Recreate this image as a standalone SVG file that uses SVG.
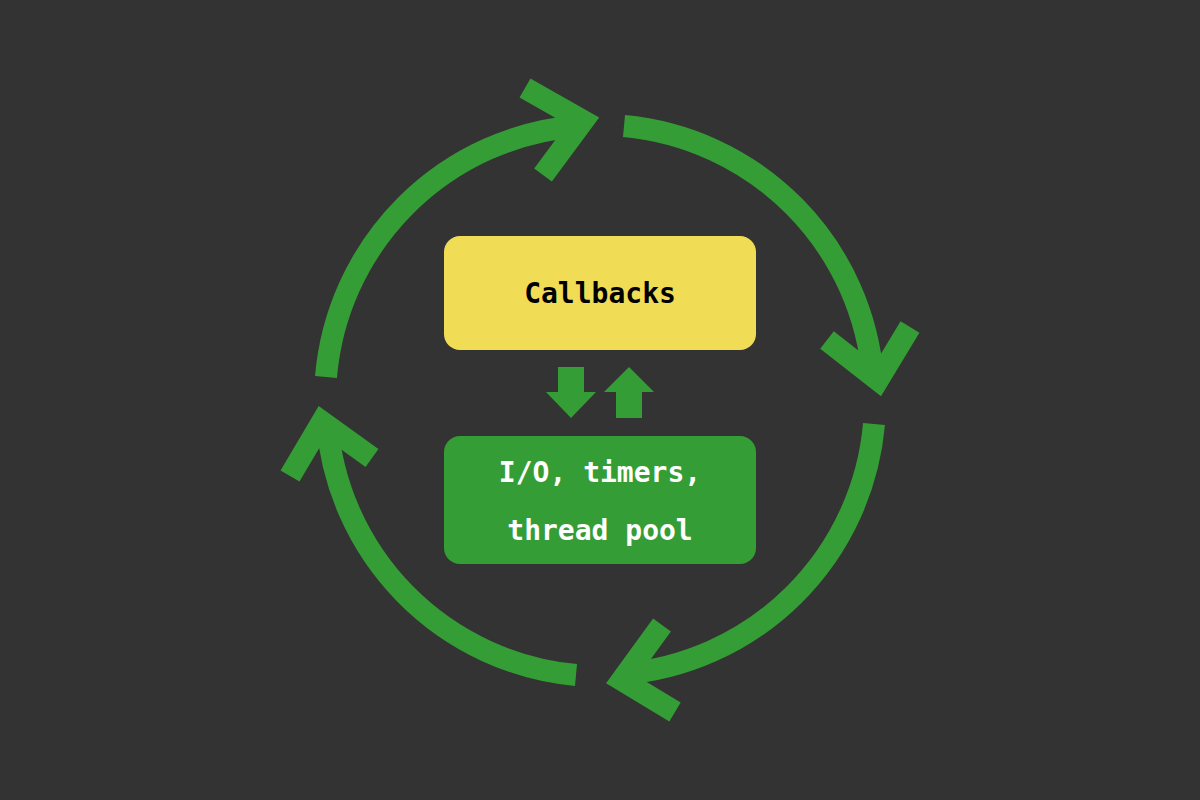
<svg xmlns="http://www.w3.org/2000/svg" width="1200" height="800" viewBox="0 0 1200 800">
<style>
.arc{fill:none;stroke:#359d35;stroke-width:22;stroke-linecap:butt}
.head{fill:none;stroke:#359d35;stroke-width:22;stroke-linejoin:miter;stroke-miterlimit:10}
.t{font-family:"DejaVu Sans Mono",monospace;font-weight:bold;font-size:28px;text-anchor:middle}
</style>
<rect width="1200" height="800" fill="#333333"/>
<g id="connectors">
<path class="arc" d="M326 377 A275 275 0 0 1 578 126"/>
<polyline class="head" points="525,88 583,121 543,175"/>
<path class="arc" d="M624 126 A275 275 0 0 1 873 378"/>
<polyline class="head" points="827,340 878,380 910,327"/>
<path class="arc" d="M874 424 A275 275 0 0 1 622 674"/>
<polyline class="head" points="662,625 622,680 675,712"/>
<path class="arc" d="M576 675 A275 275 0 0 1 327 422"/>
<polyline class="head" points="290,476 322,422 372,458"/>
<path fill="#359d35" d="M558 367 H584 V392 H596 L571 418 L546 392 H558 Z"/>
<path fill="#359d35" d="M616 418 H642 V392 H654 L629 367 L604 392 H616 Z"/>
</g>
<g id="callbacks">
<rect x="444" y="236" width="312" height="114" rx="16" fill="#f0dc55"/>
<text class="t" x="600" y="303" fill="#000">Callbacks</text>
</g>
<g id="io">
<rect x="444" y="436" width="312" height="128" rx="16" fill="#359d35"/>
<text class="t" x="600" y="482" fill="#fff">I/O, timers,</text>
<text class="t" x="600" y="540" fill="#fff">thread pool</text>
</g>
</svg>
